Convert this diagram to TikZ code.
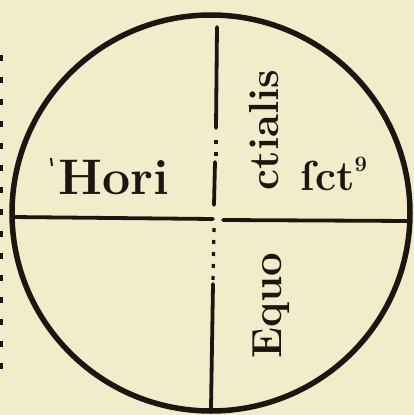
\documentclass[tikz,border=0pt]{standalone}
\usetikzlibrary{shapes.geometric}
\definecolor{paper}{HTML}{F2ECCB}
\definecolor{ink}{HTML}{1C1612}
\tikzset{
  rim/.style={draw=ink,line width=5.5pt},
  rule/.style={draw=ink,line width=3.8pt,line cap=round},
  dotrule/.style={draw=ink,line width=3.2pt,dash pattern=on 4pt off 8pt},
  word/.style={text=ink,inner sep=0pt,font=\fontsize{42}{42}\selectfont\bfseries},
}
\begin{document}
\begin{tikzpicture}[x=1pt,y=-1pt]
\fill[paper] (0,0) rectangle (414,415);
\useasboundingbox (0,0) rectangle (414,415);
% margin marks
\draw[ink,line width=2.2pt,dash pattern=on 6pt off 16pt] (1.5,55) -- (1.5,380);
% circle
\node[rim,ellipse,minimum width=398pt,minimum height=396pt,inner sep=0pt] (disk) at (211,213) {};
% cross lines
\coordinate (t1) at (217,27); \coordinate (t2) at (216,128);
\coordinate (t3) at (216,140); \coordinate (t4) at (216,160);
\coordinate (t5) at (215,162); \coordinate (t6) at (214,205);
\coordinate (b1) at (214,228); \coordinate (b2) at (213,282);
\coordinate (b3) at (213,284); \coordinate (b4) at (211,408);
\coordinate (l1) at (12,217); \coordinate (l2) at (213,219);
\coordinate (r1) at (223,220); \coordinate (r2) at (410,221);
\draw[rule] (t1) -- (t2);
\draw[dotrule] (t3) -- (t4);
\draw[rule] (t5) -- (t6);
\draw[dotrule] (b1) -- (b2);
\draw[rule] (b3) -- (b4);
\draw[rule] (l1) -- (l2);
\draw[rule] (r1) -- (r2);
% words
\node[word,anchor=base,font=\fontsize{50}{50}\selectfont\bfseries] (hori) at (114,194) {Hori};
\draw[ink,line width=2pt] (51,158) -- (52,166);
\node[word,anchor=base,rotate=90] (ctialis) at (278,130) {ctialis};
\node[word,anchor=base] (sct) at (334,190) {ſct\raisebox{0.45em}{\fontsize{22}{22}\selectfont\bfseries 9}};
\node[word,anchor=base,rotate=90] (equo) at (281,306) {Equo};
\end{tikzpicture}
\end{document}
